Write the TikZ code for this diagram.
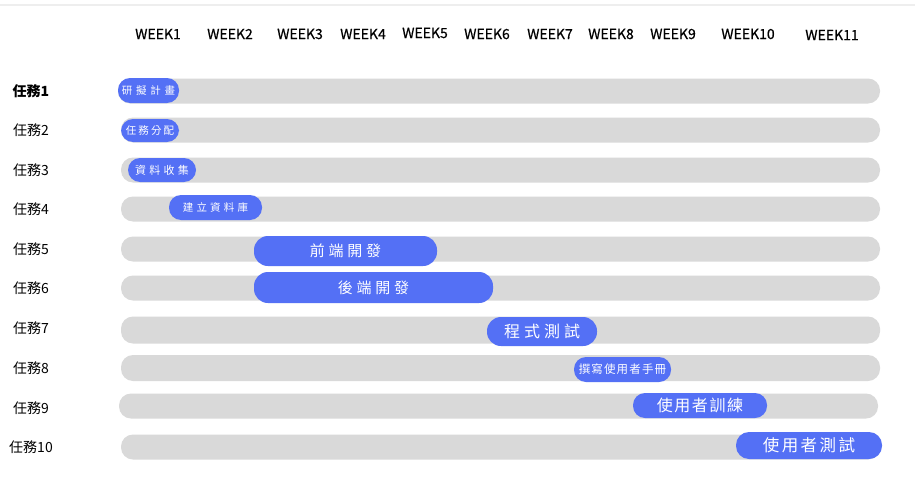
\documentclass[tikz,border=0pt]{standalone}
\usepackage{fontspec}
\setmainfont{Noto Sans CJK TC}
\newfontfamily\weekfont{Noto Sans CJK TC}[FakeBold=0.6]
\definecolor{barblue}{RGB}{84,112,245}
\definecolor{bargray}{RGB}{217,217,217}
\definecolor{topline}{RGB}{238,238,238}
\newcommand{\ls}[2]{\addfontfeature{LetterSpace=#1}#2}
\tikzset{
  weeklbl/.style={font=\weekfont\fontsize{14}{14}\selectfont, inner sep=0pt, anchor=center},
  tasklbl/.style={font=\fontsize{14}{14}\selectfont, inner sep=0pt, anchor=center},
  gbar/.style={fill=bargray, draw=none, rounded corners=12pt, inner sep=0pt, minimum height=25pt},
  bbar/.style={fill=barblue, draw=none, text=white, rounded corners=12pt, inner sep=0pt},
}
\begin{document}
\begin{tikzpicture}[x=1pt,y=-1pt]
\useasboundingbox (0,0) rectangle (915,503);
\fill[white] (0,0) rectangle (915,503);
\draw[topline, line width=1.5pt] (0,5) -- (915,5);
% week labels
\node[weeklbl] (w1) at (158,34) {WEEK1};
\node[weeklbl] (w2) at (230,34) {WEEK2};
\node[weeklbl] (w3) at (300,34) {WEEK3};
\node[weeklbl] (w4) at (363,34) {WEEK4};
\node[weeklbl] (w5) at (425,33) {WEEK5};
\node[weeklbl] (w6) at (487,34) {WEEK6};
\node[weeklbl] (w7) at (550,34) {WEEK7};
\node[weeklbl] (w8) at (611,34) {WEEK8};
\node[weeklbl] (w9) at (673,34) {WEEK9};
\node[weeklbl] (w10) at (748,34) {WEEK10};
\node[weeklbl] (w11) at (832,35) {WEEK11};
% task labels
\node[tasklbl, font=\fontsize{14}{14}\selectfont\bfseries] (t1) at (31,91) {任務1};
\node[tasklbl] (t2) at (31,130) {任務2};
\node[tasklbl] (t3) at (31,170) {任務3};
\node[tasklbl] (t4) at (31,209) {任務4};
\node[tasklbl] (t5) at (31,249) {任務5};
\node[tasklbl] (t6) at (31,288) {任務6};
\node[tasklbl] (t7) at (31,328) {任務7};
\node[tasklbl] (t8) at (31,368) {任務8};
\node[tasklbl] (t9) at (31,408) {任務9};
\node[tasklbl] (t10) at (31,447) {任務10};
% gray bars
\node[gbar, minimum width=762pt] (g1) at (499,91) {};
\node[gbar, minimum width=759pt] (g2) at (500.5,130) {};
\node[gbar, minimum width=759pt] (g3) at (500.5,170) {};
\node[gbar, minimum width=759pt] (g4) at (500.5,209) {};
\node[gbar, minimum width=759pt] (g5) at (500.5,249) {};
\node[gbar, minimum width=759pt] (g6) at (500.5,288) {};
\node[gbar, minimum width=759pt, minimum height=27pt] (g7) at (500.5,330) {};
\node[gbar, minimum width=759pt, minimum height=26pt] (g8) at (500.5,368) {};
\node[gbar, minimum width=759pt] (g9) at (498.5,406) {};
\node[gbar, minimum width=759pt] (g10) at (500.5,447) {};
% blue bars
\node[bbar, minimum width=61pt, minimum height=25pt, font=\fontsize{10.5}{11}\selectfont] (b1) at (148.5,90.5) {\ls{35}{研擬計畫}};
\node[bbar, minimum width=58pt, minimum height=23pt, font=\fontsize{10.5}{11}\selectfont] (b2) at (150,130.5) {\ls{20}{任務分配}};
\node[bbar, minimum width=68pt, minimum height=24pt, font=\fontsize{11}{11}\selectfont] (b3) at (162,170) {\ls{30}{資料收集}};
\node[bbar, minimum width=93pt, minimum height=25pt, font=\fontsize{10.5}{11}\selectfont] (b4) at (215.5,207.5) {\ls{30}{建立資料庫}};
\node[bbar, minimum width=183pt, minimum height=30pt, rounded corners=14pt, font=\fontsize{15}{15}\selectfont] (b5) at (345.5,251) {\ls{25}{前端開發}};
\node[bbar, minimum width=239pt, minimum height=31pt, rounded corners=14pt, font=\fontsize{15}{15}\selectfont] (b6) at (373.5,287.5) {\ls{25}{後端開發}};
\node[bbar, minimum width=110pt, minimum height=29pt, rounded corners=14pt, font=\fontsize{16}{16}\selectfont] (b7) at (542,331.5) {\ls{25}{程式測試}};
\node[bbar, minimum width=97pt, minimum height=25pt, font=\fontsize{11.5}{12}\selectfont] (b8) at (622.5,369.5) {\ls{10}{撰寫使用者手冊}};
\node[bbar, minimum width=134pt, minimum height=25pt, font=\fontsize{16}{16}\selectfont] (b9) at (700,405.5) {\ls{10}{使用者訓練}};
\node[bbar, minimum width=146pt, minimum height=27pt, rounded corners=13pt, font=\fontsize{16.5}{17}\selectfont] (b10) at (809,445.5) {\ls{15}{使用者測試}};
\end{tikzpicture}
\end{document}
